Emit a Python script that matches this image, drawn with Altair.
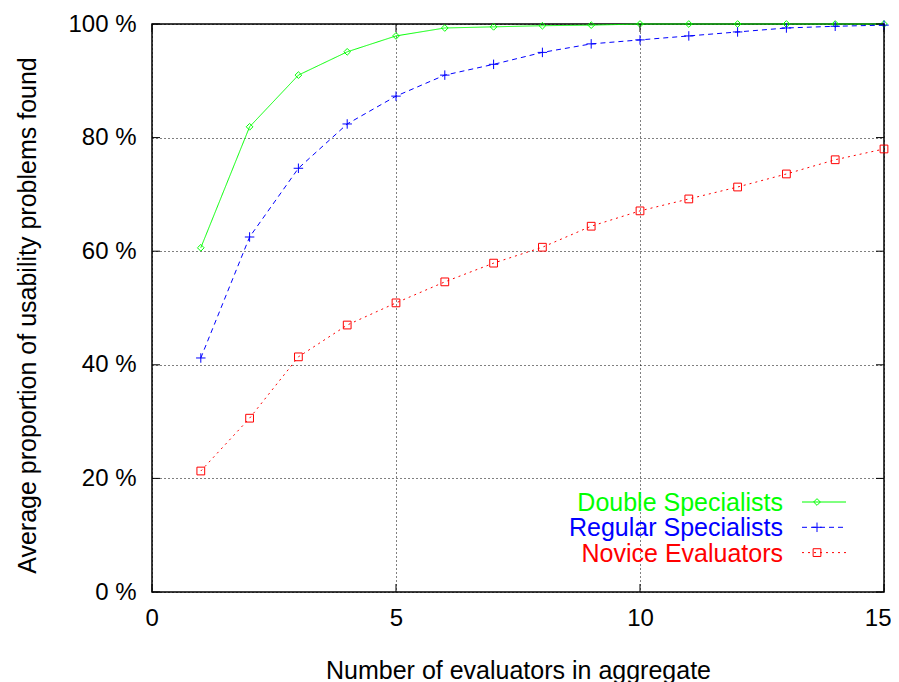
import altair as alt
import pandas as pd

evaluators = list(range(1, 16))
double_specialists = [60.6, 81.9, 91.0, 95.1, 97.9, 99.3, 99.5, 99.7, 99.8, 100, 100, 100, 100, 100, 100]
regular_specialists = [41.2, 62.5, 74.6, 82.4, 87.3, 91.0, 92.9, 95.0, 96.5, 97.2, 97.9, 98.6, 99.3, 99.6, 99.8]
novice_evaluators = [21.3, 30.6, 41.4, 47.0, 50.9, 54.6, 57.9, 60.7, 64.4, 67.1, 69.2, 71.3, 73.6, 76.1, 78.0]
series_names = ["Double Specialists", "Regular Specialists", "Novice Evaluators"]
x_ticks = [0, 5, 10, 15]
y_ticks = [0, 20, 40, 60, 80, 100]

W, H = 732, 568
FONT = "Liberation Sans"

styles = [
    dict(color="#00ff00", dash=[1, 0], shape="diamond", size=45),
    dict(color="#0000ff", dash=[5, 4], shape="M-1,0L1,0M0,-1L0,1", size=90),
    dict(color="#ff0000", dash=[2, 4], shape="square", size=60),
]
series_values = [double_specialists, regular_specialists, novice_evaluators]

x_scale = alt.Scale(domain=[0, 15], nice=False, zero=False)
y_scale = alt.Scale(domain=[0, 100], nice=False)

x_axis = alt.Axis(values=x_ticks, grid=True, gridDash=[1, 3], gridColor="black", gridOpacity=1,
                  ticks=False, domain=False, labelFontSize=24, labelPadding=14, labelColor="black",
                  labelFlush=True, labelFlushOffset=7,
                  title="Number of evaluators in aggregate", titleFontSize=25, titleFontWeight="normal",
                  titlePadding=28, titleColor="black", labelFont=FONT, titleFont=FONT)
y_axis = alt.Axis(values=y_ticks, grid=True, gridDash=[1, 3], gridColor="black", gridOpacity=1,
                  ticks=False, domain=False, labelFontSize=24, labelPadding=16, labelColor="black",
                  labelExpr="datum.value + ' %'", labelFlush=False,
                  title="Average proportion of usability problems found", titleFontSize=25,
                  titleFontWeight="normal", titlePadding=27, titleColor="black", labelFont=FONT,
                  titleFont=FONT, titleY=H / 2 + 7)

layers = []
for i, (name, vals, st) in enumerate(zip(series_names, series_values, styles)):
    df = pd.DataFrame({"n": evaluators, "p": vals, "series": name})
    if i == 0:
        xenc = alt.X("n:Q", scale=x_scale, axis=x_axis)
        yenc = alt.Y("p:Q", scale=y_scale, axis=y_axis)
    else:
        xenc = alt.X("n:Q")
        yenc = alt.Y("p:Q")
    base = alt.Chart(df).encode(x=xenc, y=yenc)
    layers.append(base.mark_line(color=st["color"], strokeWidth=1, strokeDash=st["dash"]))
    layers.append(base.mark_point(shape=st["shape"], size=st["size"], filled=False,
                                  color=st["color"], strokeWidth=1, opacity=1))

# inward ticks on all four sides
xt = pd.DataFrame({"n": x_ticks})
yt = pd.DataFrame({"p": y_ticks})
for y0, y1 in [(H, H - 8), (0, 8)]:
    layers.append(alt.Chart(xt).mark_rule(color="black", strokeWidth=1).encode(
        x=alt.X("n:Q"), y=alt.value(y0), y2=alt.value(y1)))
for x0, x1 in [(0, 8), (W, W - 8)]:
    layers.append(alt.Chart(yt).mark_rule(color="black", strokeWidth=1).encode(
        y=alt.Y("p:Q"), x=alt.value(x0), x2=alt.value(x1)))

# manual legend (labels left, line samples right)
for i, (name, st) in enumerate(zip(series_names, styles)):
    ly = 478 + 25.3 * i
    ldf = pd.DataFrame({"label": [name]})
    lc = alt.Chart(ldf)
    layers.append(lc.mark_text(align="right", baseline="middle", fontSize=25, font=FONT,
                               color=st["color"]).encode(
        text="label:N", x=alt.value(631), y=alt.value(ly + 1)))
    layers.append(lc.mark_rule(color=st["color"], strokeWidth=1, strokeDash=st["dash"]).encode(
        x=alt.value(650), x2=alt.value(694), y=alt.value(ly)))
    layers.append(lc.mark_point(shape=st["shape"], size=st["size"], filled=False, color=st["color"],
                                strokeWidth=1, opacity=1).encode(
        x=alt.value(665), y=alt.value(ly)))

chart = alt.layer(*layers).properties(
    width=W, height=H,
    autosize=alt.AutoSizeParams(type="none"),
    padding={"left": 144, "top": 16, "right": 7, "bottom": 90},
).configure(background="white", view=alt.ViewConfig(stroke="black", strokeWidth=1.5))

chart.save("out.html", embed_options={"renderer": "svg", "actions": False})
